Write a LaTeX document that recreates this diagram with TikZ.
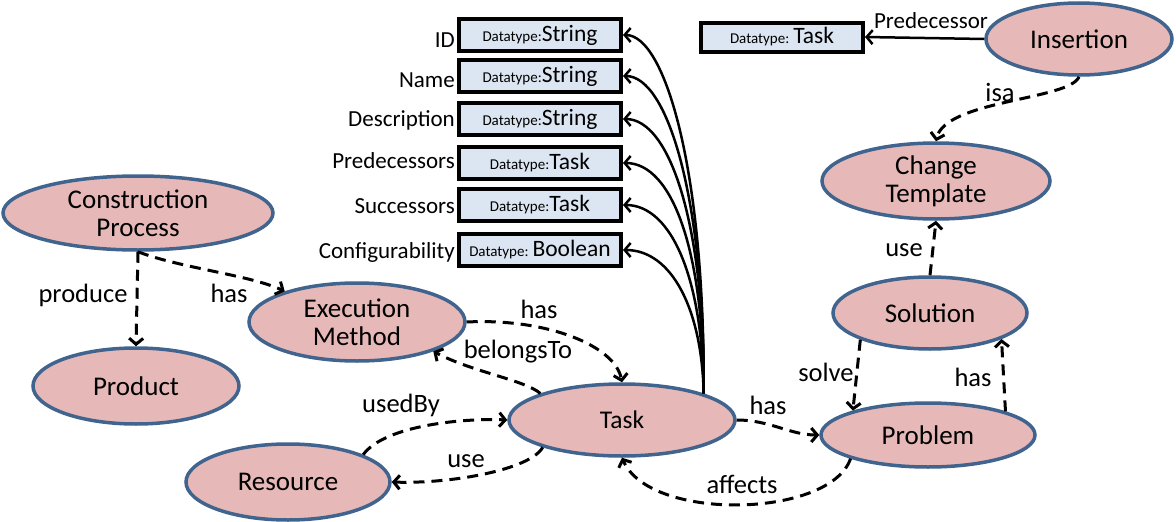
\documentclass[tikz,border=0pt]{standalone}
\usepackage{fontspec}
\setmainfont{Carlito}
\usetikzlibrary{shapes.geometric,arrows.meta}
\definecolor{ellfill}{HTML}{E6B9B8}
\definecolor{elldraw}{HTML}{41648F}
\definecolor{boxfill}{HTML}{DCE6F2}
\newcommand\dtype[1]{{\fontsize{15}{16}\selectfont Datatype:}#1}
\begin{document}
\begin{tikzpicture}[x=1pt,y=-1pt,
  concept/.style={ellipse, fill=ellfill, draw=elldraw, line width=3.5pt, inner sep=0pt, align=center, font=\fontsize{27}{28}\selectfont},
  dtbox/.style={rectangle, fill=boxfill, draw=black, line width=4pt, minimum width=162pt, minimum height=32pt, inner sep=0pt, font=\fontsize{23.5}{24}\selectfont},
  attr/.style={anchor=base east, font=\fontsize{23}{24}\selectfont, inner sep=0pt},
  lbl/.style={font=\fontsize{26.5}{28}\selectfont, inner sep=0pt},
  rel/.style={line width=3pt, dash pattern=on 11pt off 7pt, -{Straight Barb[length=6pt,width=14pt]}},
  prop/.style={line width=2.5pt, -{Straight Barb[length=6pt,width=14pt]}},
]
\useasboundingbox (0,0) rectangle (1176,522);

% concept ellipses
\node[concept, minimum width=270pt, minimum height=74pt] (cp) at (138,213) {Construction\\Process};
\node[concept, minimum width=206pt, minimum height=76pt] (product) at (136,386) {Product};
\node[concept, minimum width=216pt, minimum height=78pt] (em) at (357,322) {Execution\\Method};
\node[concept, minimum width=204pt, minimum height=76pt] (res) at (288,482) {Resource};
\node[concept, minimum width=226pt, minimum height=72pt, font=\fontsize{25.5}{27}\selectfont] (task) at (622,420) {Task};
\node[concept, minimum width=214pt, minimum height=64pt] (prob) at (928,435) {Problem};
\node[concept, minimum width=194pt, minimum height=72pt] (sol) at (930,313) {Solution};
\node[concept, minimum width=228pt, minimum height=76pt] (ct) at (936,181) {Change\\Template};
\node[concept, minimum width=186pt, minimum height=72pt] (ins) at (1079,39) {Insertion};

% datatype boxes
\node[dtbox] (bid) at (540,35) {\dtype{String}};
\node[dtbox] (bname) at (540,76) {\dtype{String}};
\node[dtbox] (bdesc) at (540,119) {\dtype{String}};
\node[dtbox] (bpred) at (540,163) {\dtype{Task}};
\node[dtbox] (bsucc) at (540,205) {\dtype{Task}};
\node[dtbox] (bconf) at (540,250) {\dtype{\,Boolean}};
\node[dtbox, minimum height=29pt] (btask) at (782,37) {\dtype{\,Task}};

% attribute names
\node[attr] (aid) at (455,47) {ID};
\node[attr] (aname) at (455,87) {Name};
\node[attr] (adesc) at (455,126) {Description};
\node[attr] (apred) at (455,168) {Predecessors};
\node[attr] (asucc) at (455,213) {Successors};
\node[attr] (aconf) at (455,258) {Configurability};

% property arrows from Task
\coordinate (tp) at (task.18);
\draw[prop] (tp) .. controls (705,170) and (665,35) .. (bid.east);
\draw[prop] (tp) .. controls (705,200) and (668,76) .. (bname.east);
\draw[prop] (tp) .. controls (705,225) and (670,119) .. (bdesc.east);
\draw[prop] (tp) .. controls (704,250) and (672,163) .. (bpred.east);
\draw[prop] (tp) .. controls (703,280) and (672,205) .. (bsucc.east);
\draw[prop] (tp) .. controls (702,310) and (672,250) .. (bconf.east);
\draw[prop] (ins.west) -- (btask.east);

% relations
\draw[rel] (cp.south) -- (product.north);
\draw[rel] (cp.south) .. controls (180,268) and (250,275) .. (em.157);
\draw[rel] (em.east) .. controls (545,318) and (615,345) .. (task.north);
\draw[rel] (task.162) .. controls (525,380) and (472,372) .. (em.-21);
\draw[rel] (res.20) .. controls (385,425) and (465,418) .. (task.west);
\draw[rel] (task.199) .. controls (530,470) and (450,484) .. (res.east);
\draw[rel] (task.east) .. controls (770,420) and (790,435) .. (prob.west);
\draw[rel] (prob.197) .. controls (830,518) and (650,522) .. (task.south);
\draw[rel] (sol.201) -- (prob.162);
\draw[rel] (prob.17) -- (sol.-20);
\draw[rel] (sol.north) -- (ct.south);
\draw[rel] (ins.south) .. controls (1070,100) and (945,100) .. (ct.north);

% relation labels
\node[lbl] (lproduce) at (83,295) {produce};
\node[lbl] (lhas1) at (229,293) {has};
\node[lbl] (lhas2) at (539,309) {has};
\node[lbl] (lbel) at (518,352) {belongsTo};
\node[lbl] (lused) at (401,405) {usedBy};
\node[lbl] (luse1) at (466,461) {use};
\node[lbl] (lhas3) at (768,405) {has};
\node[lbl] (laff) at (742,484) {affects};
\node[lbl] (lsolve) at (826,372) {solve};
\node[lbl] (lhas4) at (973,377) {has};
\node[lbl] (luse2) at (904,250) {use};
\node[lbl] (lisa) at (1000,92) {isa};
\node[attr, anchor=center] (lpred) at (931,21) {Predecessor};
\end{tikzpicture}
\end{document}
